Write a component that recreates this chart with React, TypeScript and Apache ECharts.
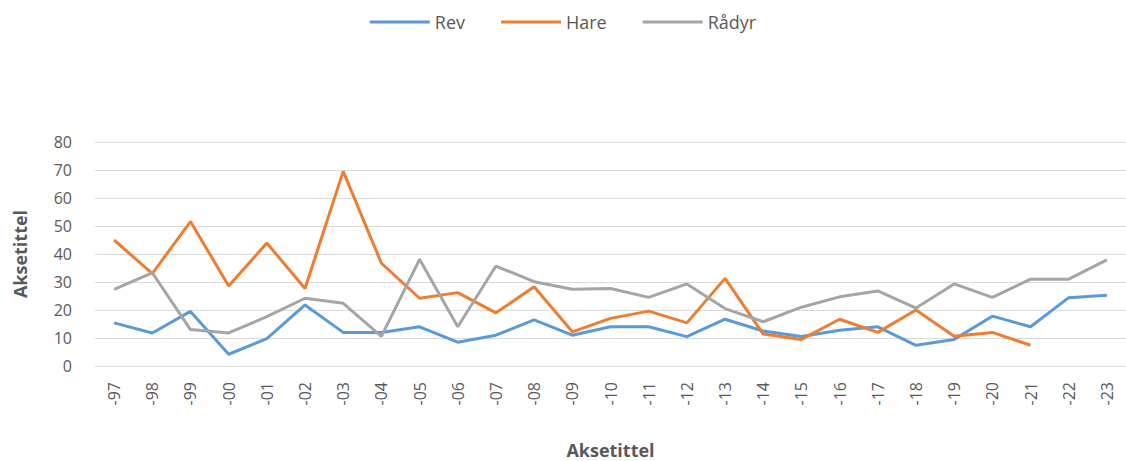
import React, { useEffect, useRef } from "react";
import * as echarts from "echarts";

const categories = ["-97","-98","-99","-00","-01","-02","-03","-04","-05","-06","-07","-08","-09","-10","-11","-12","-13","-14","-15","-16","-17","-18","-19","-20","-21","-22","-23"];
const rev = [15.4, 11.8, 19.5, 4.2, 9.8, 21.8, 12, 12, 14, 8.5, 11, 16.5, 11, 14, 14, 10.5, 16.7, 12.5, 10.5, 12.8, 14, 7.4, 9.5, 17.8, 14, 24.4, 25.3];
const hare = [45, 33, 51.6, 28.6, 43.9, 27.7, 69.5, 36.7, 24.2, 26.2, 19, 28.3, 12.2, 17, 19.6, 15.4, 31.3, 11.4, 9.5, 16.7, 12, 20, 10.6, 12, 7.4, null, null];
const radyr = [27.4, 33.3, 13, 11.8, 17.6, 24.2, 22.4, 10.6, 38.1, 14, 35.7, 30.1, 27.4, 27.7, 24.5, 29.3, 20.5, 15.8, 21, 24.7, 26.8, 20.7, 29.3, 24.5, 31, 31, 37.9];
const yTicks = { min: 0, max: 80, interval: 10 };

const FONT = "'Open Sans', 'Liberation Sans', sans-serif";
const TXT = "#595959";

export default function App() {
  const ref = useRef<HTMLDivElement>(null);
  useEffect(() => {
    if (!ref.current) return;
    const chart = echarts.init(ref.current, undefined, { renderer: "svg" });
    const mk = (name: string, data: (number | null)[], color: string) => ({
      name,
      type: "line",
      data,
      symbol: "none",
      showSymbol: false,
      lineStyle: { width: 3, color },
      itemStyle: { color },
      connectNulls: false,
    });
    chart.setOption({
      animation: false,
      textStyle: { fontFamily: FONT },
      legend: {
        top: 8,
        left: "center",
        icon: "rect",
        itemWidth: 60,
        itemHeight: 3,
        itemGap: 36,
        textStyle: { fontSize: 18, color: TXT, fontFamily: FONT },
        data: ["Rev", "Hare", "Rådyr"],
      },
      grid: { left: 95, width: 1037, top: 142, height: 224, containLabel: false },
      xAxis: {
        type: "category",
        data: categories,
        boundaryGap: true,
        axisLine: { lineStyle: { color: "#D9D9D9" } },
        axisTick: { show: false },
        axisLabel: { rotate: 90, color: TXT, fontSize: 16, margin: 16, interval: 0, fontFamily: FONT },
        name: "Aksetittel",
        nameLocation: "middle",
        nameGap: 75,
        nameTextStyle: { color: TXT, fontSize: 18, fontWeight: "bold", fontFamily: FONT },
      },
      yAxis: {
        type: "value",
        min: yTicks.min,
        max: yTicks.max,
        interval: yTicks.interval,
        axisLine: { show: false },
        axisTick: { show: false },
        splitLine: { lineStyle: { color: "#D9D9D9", width: 1 } },
        axisLabel: { color: TXT, fontSize: 16, margin: 23, fontFamily: FONT },
        name: "Aksetittel",
        nameLocation: "middle",
        nameGap: 66,
        nameTextStyle: { color: TXT, fontSize: 18, fontWeight: "bold", fontFamily: FONT },
      },
      series: [
        mk("Rev", rev, "#5B9BD5"),
        mk("Hare", hare, "#ED7D31"),
        mk("Rådyr", radyr, "#A5A5A5"),
      ],
    });
    return () => chart.dispose();
  }, []);
  return <div ref={ref} style={{ position: "absolute", left: 0, top: 0, width: 1126, height: 461 }} />;
}
